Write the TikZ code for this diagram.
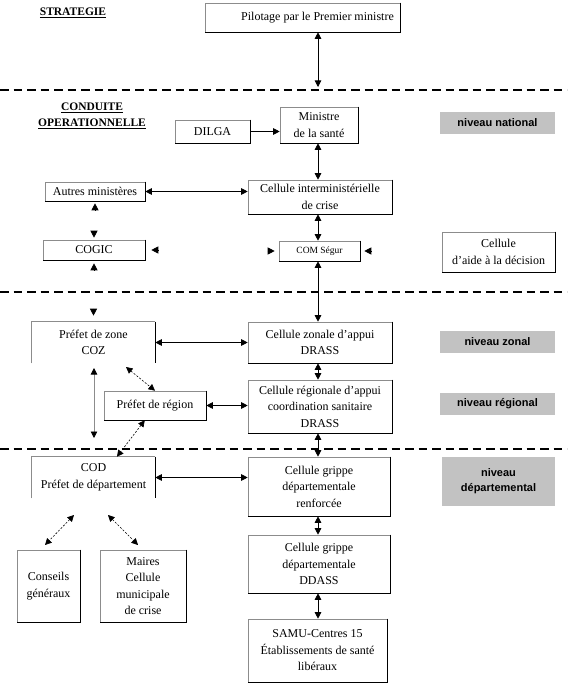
\documentclass[tikz,border=0pt]{standalone}
\usepackage{fontspec}
\setmainfont{Liberation Serif}
\newfontfamily\lsans{Liberation Sans}
\usetikzlibrary{arrows.meta,calc}

\tikzset{
  box/.style={draw=black!45, line width=0.6pt, fill=white, inner sep=0pt, align=center,
    font=\fontsize{12}{16.5}\selectfont},
  openbox/.style={box, draw=none},
  lvl/.style={fill=black!24, inner sep=0pt, align=center,
    font=\lsans\bfseries\fontsize{11}{15}\selectfont},
  hd/.style={inner sep=0pt, align=center, font=\bfseries\fontsize{11.5}{15.5}\selectfont},
  tipa/.style={line width=0.8pt, {Triangle[length=6.5pt,width=6.5pt]}-{Triangle[length=6.5pt,width=6.5pt]}},
  tipr/.style={line width=0.8pt, -{Triangle[length=6.5pt,width=6.5pt]}},
  lonetip/.style={line width=0.8pt, -{Triangle[length=7pt,width=7pt]}},
  greyconn/.style={line width=0.8pt, draw=black!45,
    {Triangle[length=6.5pt,width=6.5pt,color=black]}-{Triangle[length=6.5pt,width=6.5pt,color=black]}},
  dotconn/.style={line width=0.6pt, dash pattern=on 2pt off 1.6pt,
    {Triangle[length=6.5pt,width=6.5pt]}-{Triangle[length=6.5pt,width=6.5pt]}},
  sep/.style={line width=2.6pt, dash pattern=on 8.5pt off 5pt},
  shd/.style={draw=black, line width=0.9pt},
}

% [style]{name}{x1}{y1}{x2}{y2}{text}
\newcommand\bx[7][box]{\node[#1, minimum width={(#5-#3)*1pt}, minimum height={(#6-#4)*1pt}]
  (#2) at ({(#3+#5)/2},{(#4+#6)/2}) {#7};}
\newcommand\shadowedge[1]{\draw[shd] (#1.north east) -- (#1.south east) -- (#1.south west);}
\newcommand\openedges[1]{\draw[draw=black!45, line width=0.6pt] (#1.south west) -- (#1.north west) -- (#1.north east);
  \draw[shd] (#1.north east) -- (#1.south east);}

\begin{document}
\begin{tikzpicture}[x=1pt, y=-1pt]
\useasboundingbox (0,0) rectangle (567,684);

% separators
\draw[sep] (0,90) -- (567,90);
\draw[sep] (0,292) -- (567,292);
\draw[sep] (0,449) -- (567,449);

% headings
\node[hd] (strat) at (73,13) {\underline{STRATEGIE}};
\node[hd] (cond) at (92,116) {\underline{CONDUITE}\\\underline{OPERATIONNELLE}};

% boxes
\bx{pilot}{205}{3}{400}{32}{\hspace*{30pt}Pilotage par le Premier ministre}
\bx{dilga}{175}{120}{250}{143}{DILGA}
\bx{ministre}{280}{107}{358}{143}{Ministre\\de la santé}
\bx[lvl]{natl}{440}{112}{555}{134}{niveau national}
\bx{autres}{45}{182}{145}{201}{Autres ministères}
\bx{inter}{248}{180}{392}{214}{Cellule interministérielle\\de crise}
\bx{cogic}{43}{240}{145}{260}{COGIC}
\bx[box, font=\fontsize{9.5}{11}\selectfont]{comseg}{279}{241}{360}{261}{COM Ségur}
\bx{aide}{442}{232}{555}{272}{Cellule\\d’aide à la décision}

\bx[openbox]{zone}{32}{322}{155}{363}{Préfet de zone\\COZ}
\bx{zonal}{248}{322}{392}{363}{Cellule zonale d’appui\\DRASS}
\bx[lvl]{zonalv}{440}{331}{555}{353}{niveau zonal}
\bx{region}{104}{391}{206}{420}{Préfet de région}
\bx{regcell}{248}{380}{392}{433}{Cellule régionale d’appui\\coordination sanitaire\\DRASS}
\bx[lvl]{regv}{440}{393}{555}{415}{niveau régional}

\bx[openbox]{cod}{32}{457}{155}{498}{COD\\Préfet de département}
\bx{renf}{248}{457}{390}{516}{Cellule grippe\\départementale\\renforcée}
\bx[lvl]{deptv}{442}{457}{555}{506}{niveau\\départemental}
\bx{conseils}{17}{550}{80}{622}{Conseils\\généraux}
\bx{maires}{100}{550}{186}{622}{Maires\\Cellule\\municipale\\de crise}
\bx{ddass}{248}{535}{390}{593}{Cellule grippe\\départementale\\DDASS}
\bx{samu}{248}{619}{387}{682}{SAMU-Centres 15\\Établissements de santé\\libéraux}

\foreach \n in {pilot,dilga,ministre,autres,inter,cogic,comseg,aide,zonal,region,regcell,renf,conseils,maires,ddass,samu}
  {\shadowedge{\n}}
\openedges{zone}
\openedges{cod}

% helper coordinates
\coordinate (col) at (318,0);
\coordinate (top1) at (318,87);
\coordinate (gz1) at (94,368);
\coordinate (gz2) at (94,438);
\coordinate (dz) at (126,367);
\coordinate (dc1) at (74,515);
\coordinate (dc2) at (45,545);
\coordinate (dm1) at (108,515);
\coordinate (dm2) at (138,545);

% connectors
\draw[tipa] (pilot.south -| col) -- (top1);
\draw[tipr] (dilga.east) -- (ministre.west |- dilga.east);
\draw[tipa] (ministre.south -| col) -- (inter.north -| col);
\draw[tipa] (autres.east) -- (inter.west |- autres.east);
\draw[tipa] (inter.south -| col) -- (comseg.north -| col);
\draw[tipa] (comseg.south -| col) -- (zonal.north -| col);
\draw[tipa] (zone.east |- zonal.west) -- (zonal.west);
\draw[tipa] (zonal.south -| col) -- (regcell.north -| col);
\draw[greyconn] (gz1) -- (gz2);
\draw[dotconn] (dz) -- (region.north);
\draw[tipa] (region.east) -- (regcell.west |- region.east);
\draw[dotconn] ($(region.south west)!0.4!(region.south east)$) -- ($(cod.north west)!0.69!(cod.north east)$);
\draw[tipa] (regcell.south -| col) -- (renf.north -| col);
\draw[tipa] (cod.east) -- (renf.west |- cod.east);
\draw[dotconn] (dc1) -- (dc2);
\draw[dotconn] (dm1) -- (dm2);
\draw[tipa] (renf.south -| col) -- (ddass.north -| col);
\draw[tipa] (ddass.south -| col) -- (samu.north -| col);

% lone arrowheads
\draw[lonetip] ($(autres.south)+(0,9)$) -- ($(autres.south)+(0,2)$);
\draw[lonetip] ($(cogic.north)+(0,-9)$) -- ($(cogic.north)+(0,-2)$);
\draw[lonetip] ($(cogic.south)+(0,10)$) -- ($(cogic.south)+(0,3)$);
\draw[lonetip] ($(cogic.east)+(13,0)$) -- ($(cogic.east)+(6,0)$);
\draw[lonetip] ($(comseg.west)+(-11,0)$) -- ($(comseg.west)+(-4,0)$);
\draw[lonetip] ($(comseg.east)+(11,0)$) -- ($(comseg.east)+(4,0)$);
\draw[lonetip] ($(zone.north)+(0,-13)$) -- ($(zone.north)+(0,-6)$);
\end{tikzpicture}
\end{document}
